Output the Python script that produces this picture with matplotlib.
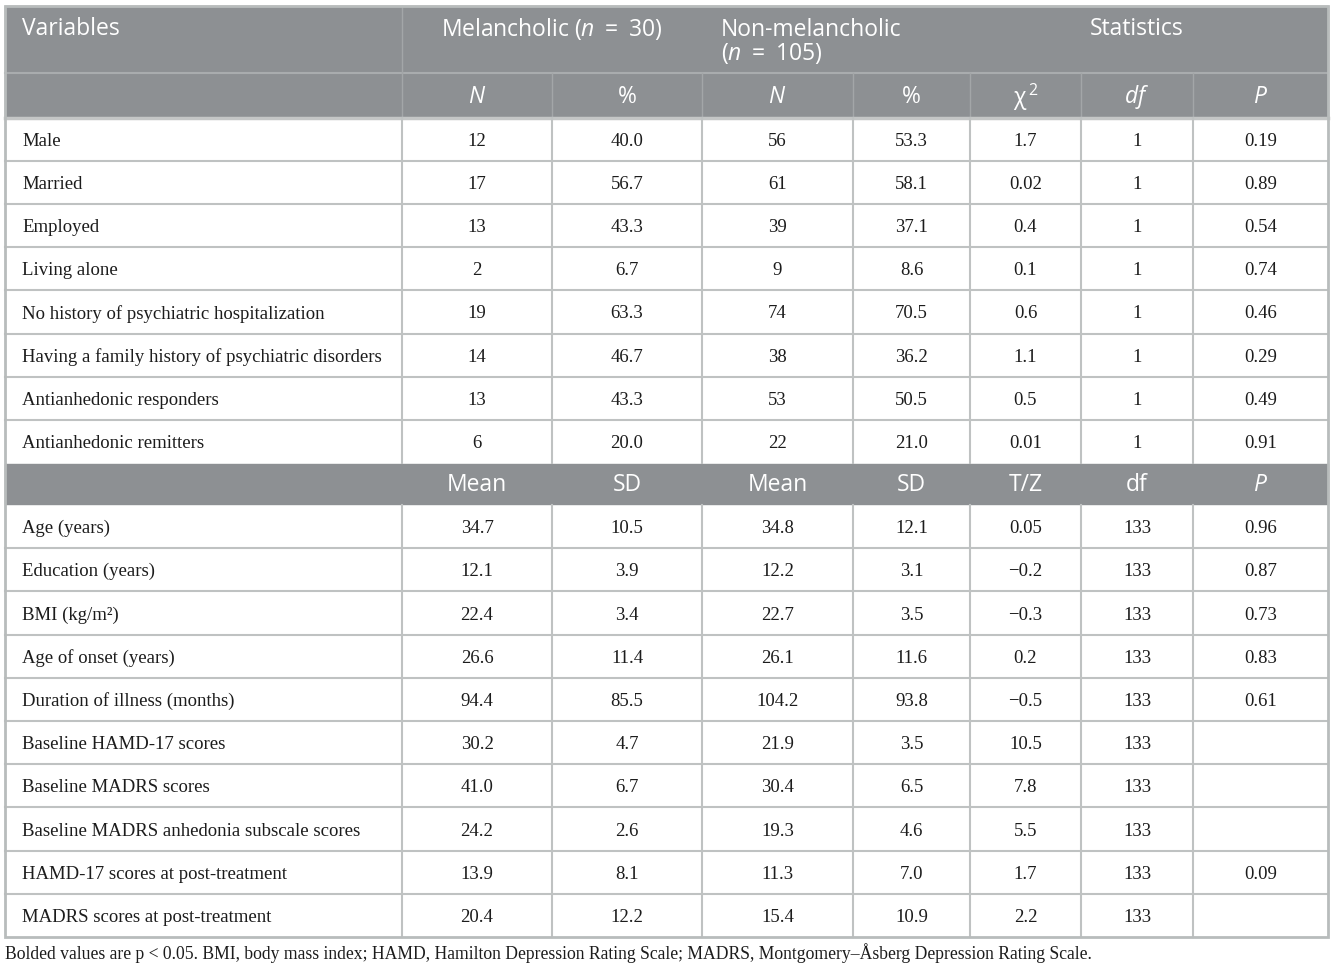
import matplotlib
matplotlib.use("Agg")
import matplotlib.pyplot as plt
from matplotlib.patches import Rectangle

# ---- data ----
cat_labels = ["Male", "Married", "Employed", "Living alone",
              "No history of psychiatric hospitalization",
              "Having a family history of psychiatric disorders",
              "Antianhedonic responders", "Antianhedonic remitters"]
mel_n = ["12", "17", "13", "2", "19", "14", "13", "6"]
mel_pct = ["40.0", "56.7", "43.3", "6.7", "63.3", "46.7", "43.3", "20.0"]
non_n = ["56", "61", "39", "9", "74", "38", "53", "22"]
non_pct = ["53.3", "58.1", "37.1", "8.6", "70.5", "36.2", "50.5", "21.0"]
chi2 = ["1.7", "0.02", "0.4", "0.1", "0.6", "1.1", "0.5", "0.01"]
cat_df = ["1"] * 8
cat_p = ["0.19", "0.89", "0.54", "0.74", "0.46", "0.29", "0.49", "0.91"]

cont_labels = ["Age (years)", "Education (years)", "BMI (kg/m\u00b2)",
               "Age of onset (years)", "Duration of illness (months)",
               "Baseline HAMD-17 scores", "Baseline MADRS scores",
               "Baseline MADRS anhedonia subscale scores",
               "HAMD-17 scores at post-treatment", "MADRS scores at post-treatment"]
mel_mean = ["34.7", "12.1", "22.4", "26.6", "94.4", "30.2", "41.0", "24.2", "13.9", "20.4"]
mel_sd = ["10.5", "3.9", "3.4", "11.4", "85.5", "4.7", "6.7", "2.6", "8.1", "12.2"]
non_mean = ["34.8", "12.2", "22.7", "26.1", "104.2", "21.9", "30.4", "19.3", "11.3", "15.4"]
non_sd = ["12.1", "3.1", "3.5", "11.6", "93.8", "3.5", "6.5", "4.6", "7.0", "10.9"]
tz = ["0.05", "\u22120.2", "\u22120.3", "0.2", "\u22120.5", "10.5", "7.8", "5.5", "1.7", "2.2"]
cont_df = ["133"] * 10
cont_p = ["0.96", "0.87", "0.73", "0.83", "0.61", "", "", "", "0.09", ""]

sub_head1 = ["$N$", "%", "$N$", "%", "\u03c7$^{\\,2}$", "$df$", "$P$"]
sub_head2 = ["Mean", "SD", "Mean", "SD", "T/Z", "df", "$P$"]
footnote = ("Bolded values are p < 0.05. BMI, body mass index; HAMD, Hamilton Depression "
            "Rating Scale; MADRS, Montgomery\u2013\u00c5sberg Depression Rating Scale.")

# ---- layout (pixels) ----
W, H = 1333, 968
col_edges = [5, 402, 552, 702, 853, 970, 1081, 1193, 1328]
head_bg = "#8d9093"
line_c = "#bfc2c2"
body_c = "#1c1c1c"
head_font = "Open Sans"
body_font = "Liberation Serif"
head_fs = 16.5
body_fs = 13.5

plt.rcParams["mathtext.fontset"] = "custom"
plt.rcParams["mathtext.rm"] = head_font
plt.rcParams["mathtext.it"] = head_font + ":italic"

fig = plt.figure(figsize=(W / 100, H / 100), dpi=100)
ax = fig.add_axes([0, 0, 1, 1])
ax.set_xlim(0, W)
ax.set_ylim(H, 0)
ax.axis("off")

x0, x1 = col_edges[0], col_edges[-1]
centers = [(col_edges[i] + col_edges[i + 1]) / 2 for i in range(1, len(col_edges) - 1)]

# header row 1 + 2
h1_top, h1_bot, h2_bot = 6, 73, 117
ax.add_patch(Rectangle((x0, h1_top), x1 - x0, h2_bot - h1_top, color=head_bg, zorder=1))
ax.plot([x0, x1], [h1_bot, h1_bot], color="#a9acae", lw=1.5, zorder=2)
ax.plot([col_edges[1]] * 2, [h1_top, h1_bot], color="#a3a6a8", lw=1, zorder=2)
for xe in col_edges[1:-1]:
    ax.plot([xe, xe], [h1_bot, h2_bot], color="#a3a6a8", lw=1, zorder=2)

ax.text(22, 29, "Variables", ha="left", va="center", color="white",
        fontsize=head_fs, family=head_font, zorder=3)
ax.text(552, 29, "Melancholic ($n\\ =\\ \\mathrm{30}$)", ha="center", va="center",
        color="white", fontsize=head_fs, family=head_font, zorder=3)
ax.text(721, 42, "Non-melancholic\n($n\\ =\\ \\mathrm{105}$)", ha="left", va="center",
        color="white", fontsize=head_fs, family=head_font, linespacing=0.92, zorder=3)
ax.text(1137, 29, "Statistics", ha="center", va="center", color="white",
        fontsize=head_fs, family=head_font, zorder=3)
for cx, lab in zip(centers, sub_head1):
    ax.text(cx, 97, lab, ha="center", va="center", color="white",
            fontsize=head_fs, family=head_font, zorder=3)


def body_rows(top, labels, cols, rh):
    n = len(labels)
    for i in range(n):
        yc = top + rh * (i + 0.5) + 2
        ax.text(22, yc, labels[i], ha="left", va="center", color=body_c,
                fontsize=body_fs, family=body_font)
        for cx, col in zip(centers, cols):
            ax.text(cx, yc, col[i], ha="center", va="center", color=body_c,
                    fontsize=body_fs, family=body_font)
        if i > 0:
            ax.plot([x0, x1], [top + rh * i] * 2, color=line_c, lw=1.5)
    bot = top + rh * n
    for xe in col_edges[1:-1]:
        ax.plot([xe, xe], [top, bot], color=line_c, lw=1.5)
    return bot


# categorical block
b1_top = 118
ax.plot([x0, x1], [b1_top, b1_top], color="#c4c6c6", lw=2.5, zorder=2)
b1_bot = body_rows(b1_top, cat_labels,
                   [mel_n, mel_pct, non_n, non_pct, chi2, cat_df, cat_p], 43.1)

# continuous header
h3_top, h3_bot = b1_bot + 1, 504
ax.add_patch(Rectangle((x0, h3_top), x1 - x0, h3_bot - h3_top, color=head_bg, zorder=1))
for cx, lab in zip(centers, sub_head2):
    ax.text(cx, (h3_top + h3_bot) / 2 + 1, lab, ha="center", va="center", color="white",
            fontsize=head_fs, family=head_font, zorder=3)

# continuous block
b2_bot = body_rows(h3_bot + 1, cont_labels,
                   [mel_mean, mel_sd, non_mean, non_sd, tz, cont_df, cont_p], 43.2)

# outer border
ax.add_patch(Rectangle((x0, h1_top), x1 - x0, b2_bot - h1_top, fill=False,
                       edgecolor="#b8bcbc", lw=2, zorder=4))

ax.text(5, 953, footnote, ha="left", va="center", color=body_c,
        fontsize=12.7, family=body_font)

fig.savefig("out.png", dpi=100)
